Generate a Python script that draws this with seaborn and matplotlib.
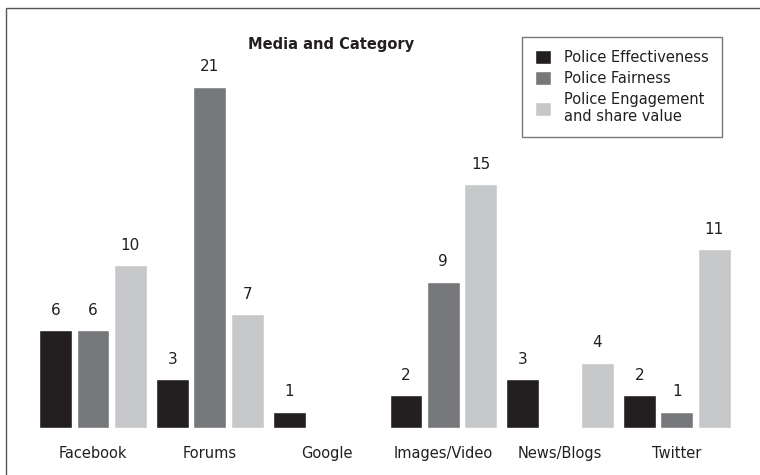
import pandas as pd
import numpy as np
import matplotlib
matplotlib.use('Agg')
import matplotlib.pyplot as plt
import matplotlib.patches as patches
import seaborn as sns

media = ['Facebook', 'Forums', 'Google', 'Images/Video', 'News/Blogs', 'Twitter']
effectiveness = [6, 3, 1, 2, 3, 2]
fairness = [6, 21, 0, 9, 0, 1]
engagement = [10, 7, 0, 15, 4, 11]
series = ['Police Effectiveness', 'Police Fairness', 'Police Engagement\nand share value']
colors = ['#231f20', '#77787b', '#c7c8ca']

df = pd.DataFrame({'media': media * 3,
                   'series': [series[0]] * 6 + [series[1]] * 6 + [series[2]] * 6,
                   'value': effectiveness + fairness + engagement})

sns.set_theme(style='white')
plt.rcParams['font.family'] = ['DejaVu Sans']

fig = plt.figure(figsize=(7.6, 4.75), dpi=100)
ax = fig.add_axes([0.0455, 0.099, 0.922, 0.821])

sns.barplot(data=df, x='media', y='value', hue='series', palette=colors,
            width=0.96, gap=0.12, saturation=1, ax=ax)

# value labels, skip the empty ones
for cont in ax.containers:
    labels = [str(int(v)) if v > 0 else '' for v in cont.datavalues]
    ax.bar_label(cont, labels=labels, padding=9, fontsize=11, color='#231f20')

ax.set_xlim(-0.5, 5.5)
ax.set_ylim(0, 24)
ax.set_xlabel('')
ax.set_ylabel('')
ax.set_yticks([])
ax.tick_params(axis='x', length=0, pad=13, labelsize=10.5, colors='#231f20')
for s in ax.spines.values():
    s.set_visible(False)

leg = ax.legend(loc='upper right', bbox_to_anchor=(0.981, 1.003), frameon=True,
                fancybox=False, edgecolor='#555555', fontsize=10.5,
                handlelength=1.1, handleheight=1.1, handletextpad=0.9,
                labelspacing=0.4, borderpad=0.9, borderaxespad=0)
leg.get_frame().set_linewidth(1.0)
for t in leg.get_texts():
    t.set_color('#231f20')

fig.text(0.436, 0.907, 'Media and Category', ha='center', va='center',
         fontsize=10.5, fontweight='bold', color='#231f20')

# outer frame (left and top edges visible)
frame = patches.Rectangle((6 / 760, -0.1), 1.2, 1.1 - 8 / 475, transform=fig.transFigure,
                          fill=False, edgecolor='#555555', lw=1.0)
fig.patches.append(frame)

fig.savefig('out.png', dpi=100)
